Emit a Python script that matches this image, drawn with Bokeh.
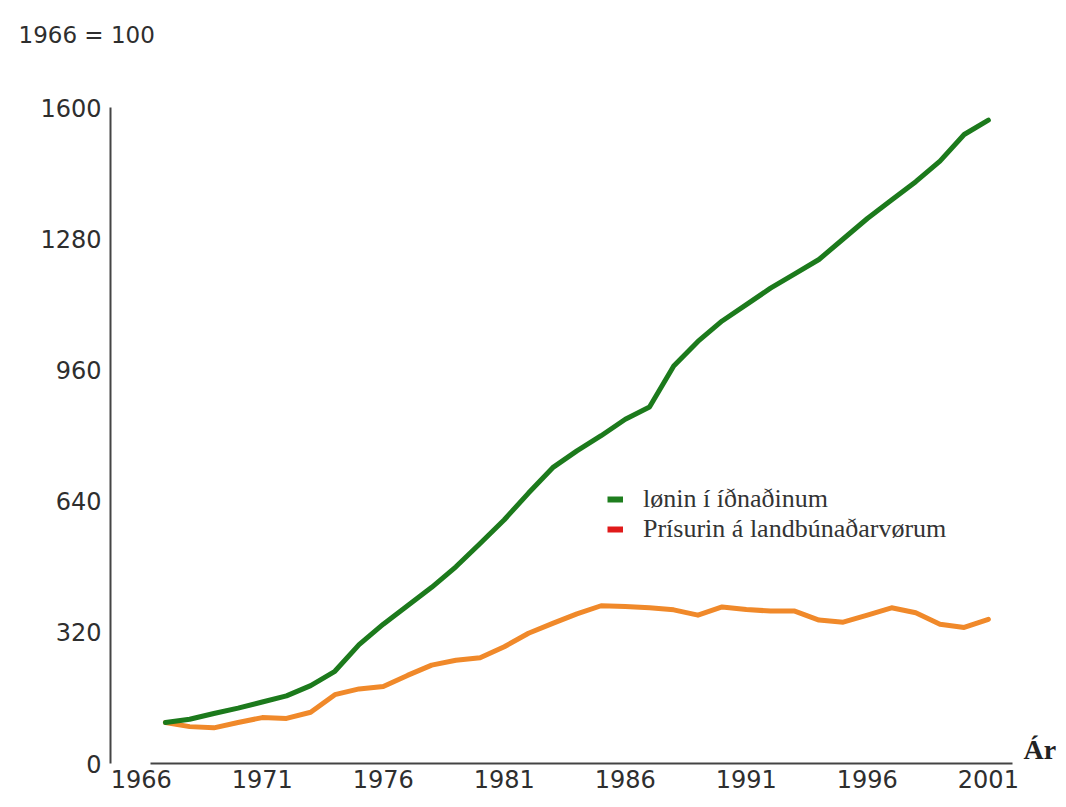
from bokeh.plotting import figure
from bokeh.models import Range1d, FixedTicker, Label, Legend, LegendItem, ColumnDataSource
from bokeh.embed import file_html
from bokeh.resources import INLINE

# ---- data (1966 = 100) ----
years = list(range(1966, 2001))
wages_industry = [100, 108, 122, 135, 150, 165, 190, 225, 290, 340,
                  385, 430, 480, 537, 595, 660, 722, 763, 800, 840,
                  870, 970, 1030, 1080, 1120, 1160, 1195, 1230, 1280, 1330,
                  1375, 1420, 1470, 1535, 1570]
agri_prices = [100, 90, 87, 100, 112, 110, 125, 168, 182, 188,
               215, 240, 252, 258, 285, 318, 342, 365, 385, 383,
               380, 375, 362, 382, 376, 372, 372, 350, 345, 362,
               380, 368, 340, 332, 352]
x_ticks = [1966, 1971, 1976, 1981, 1986, 1991, 1996, 2001]
y_ticks = [0, 320, 640, 960, 1280, 1600]
legend_labels = ["lønin í íðnaðinum", "Prísurin á landbúnaðarvørum"]
index_note = "1966 = 100"
x_title = "Ár"

src = ColumnDataSource(dict(year=years, wages=wages_industry, agri=agri_prices))

p = figure(width=1060, height=800,
           x_range=Range1d(1963.73, 2002.98), y_range=Range1d(0, 1640),
           output_backend="svg", toolbar_location=None,
           min_border_left=110, min_border_right=0,
           min_border_top=91, min_border_bottom=37)
p.grid.visible = False
p.outline_line_color = None
p.background_fill_color = "white"
p.border_fill_color = "white"

# "1966 = 100" index note, top-left (an empty second line lifts it upward)
p.title.text = index_note + "\n"
p.title.align = "left"
p.title.offset = -92
p.title.standoff = 36
p.title.text_font = "DejaVu Sans"
p.title.text_font_size = "23px"
p.title.text_font_style = "normal"
p.title.text_color = "#2e2e2e"

for ax in (p.xaxis[0], p.yaxis[0]):
    ax.major_tick_in = 0
    ax.major_tick_out = 0
    ax.minor_tick_in = 0
    ax.minor_tick_out = 0
    ax.axis_line_color = "#444444"
    ax.axis_line_width = 2
    ax.major_label_text_font = "DejaVu Sans"
    ax.major_label_text_font_size = "24px"
    ax.major_label_text_color = "#2e2e2e"

# year labels sit just left of their tick position, as in the reference
label_shift = 1
p.xaxis.ticker = FixedTicker(ticks=[t - label_shift for t in x_ticks])
p.xaxis.major_label_overrides = {t - label_shift: str(t) for t in x_ticks}
p.xaxis.bounds = (1965.4, 2001)
p.xaxis.major_label_standoff = 6

p.yaxis.ticker = FixedTicker(ticks=y_ticks)
p.yaxis.bounds = (0, 1600)
p.yaxis.major_label_standoff = 9

p.line("year", "agri", source=src, line_color="#f0892a", line_width=5,
       line_join="round", line_cap="round")
p.line("year", "wages", source=src, line_color="#1c7a1c", line_width=5,
       line_join="round", line_cap="round")

# legend swatches (small filled bars, as in the reference) — hidden renderers
sw1 = p.line("year", "wages", source=src, line_color="#1e7e1e", line_width=6,
             line_cap="butt", visible=False)
sw2 = p.line("year", "agri", source=src, line_color="#e01a1a", line_width=6,
             line_cap="butt", visible=False)
legend = Legend(items=[LegendItem(label=legend_labels[0], renderers=[sw1]),
                       LegendItem(label=legend_labels[1], renderers=[sw2])],
                location=(497, 219), orientation="vertical",
                border_line_color=None, background_fill_alpha=0,
                inactive_fill_alpha=0,
                padding=0, margin=0, spacing=0,
                glyph_width=16, glyph_height=26, label_height=26,
                label_standoff=20,
                label_text_font="Liberation Serif",
                label_text_font_size="26px",
                label_text_color="#333333")
p.add_layout(legend)

p.add_layout(Label(x=2001.45, y=72, text=x_title,
                   text_font="Liberation Serif", text_font_size="28px",
                   text_font_style="bold", text_color="#222222",
                   text_baseline="top", text_align="left"))

open("out.html", "w").write(file_html(p, INLINE))
